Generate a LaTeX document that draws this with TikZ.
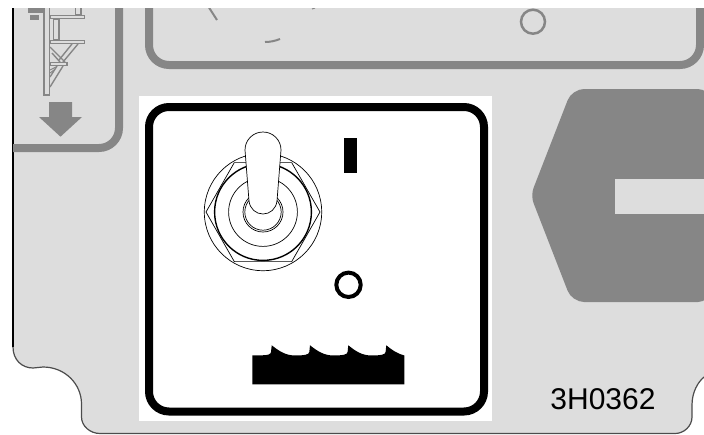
\documentclass[tikz,border=0pt]{standalone}
\usepackage{fontspec}
\setmainfont{Liberation Sans}
\definecolor{platefill}{HTML}{DDDDDD}
\definecolor{markgray}{HTML}{868686}
\begin{document}
\begin{tikzpicture}[x=1pt,y=-1pt,
  frameline/.style={draw=markgray, line width=8pt, rounded corners=20pt},
  decalline/.style={draw=black, line width=8pt, rounded corners=20pt},
  thinline/.style={draw=black, line width=0.7pt},
  ladderbar/.style={draw=markgray, fill=platefill, line width=1.6pt},
  dialmark/.style={draw=markgray, line width=2pt},
  partno/.style={font=\fontsize{30}{30}\selectfont, text=black, anchor=base, inner sep=0pt}]
\useasboundingbox (0,0) rectangle (704,434);
\begin{scope}
\clip (0,8) rectangle (704,434);
\fill[platefill] (13,0) -- (13,347) .. controls (13,360) and (22,368) .. (33,368)
  -- (43,367) .. controls (65,367) and (81.5,384) .. (81.5,404) -- (81.5,417)
  .. controls (81.5,426) and (90,433.5) .. (100,433.5) -- (675,433.5)
  .. controls (684,433.5) and (692,426) .. (692,417) -- (692,405)
  .. controls (692,392) and (698,382) .. (704,377) -- (704,0) -- cycle;
\draw[black, line width=1.4pt] (13,0) -- (13,347);
\draw[black!70, line width=1.2pt] (13,347) .. controls (13,360) and (22,368) .. (33,368)
  -- (43,367) .. controls (65,367) and (81.5,384) .. (81.5,404) -- (81.5,417)
  .. controls (81.5,426) and (90,433.5) .. (100,433.5) -- (675,433.5)
  .. controls (684,433.5) and (692,426) .. (692,417) -- (692,405)
  .. controls (692,392) and (698,382) .. (704,377);
\draw[frameline] (13,148) -- (119,148) -- (119,0);
\draw[frameline] (149,0) -- (149,65) -- (700,65) -- (700,0);
\draw[dialmark, line width=2.5pt] (533,21.7) circle[radius=12];
\draw[dialmark] (208,6) -- (217,20);
\draw[dialmark] (265,42) .. controls (270,42) and (275,41) .. (280,39);
\draw[dialmark, line width=1pt] (312,9) -- (315,8);
\fill[markgray] (28,8) rectangle (44,13);
\fill[markgray] (30,15) rectangle (39,20);
\draw[ladderbar] (75.5,0) rectangle (81,15);
\draw[ladderbar] (53.5,19) rectangle (59,40);
\draw[ladderbar, line width=1.4pt] (50,47) -- (65,62);
\draw[ladderbar, line width=1.4pt] (52,53) -- (60,62);
\draw[ladderbar, line width=1.4pt] (78,44) -- (63,62);
\draw[ladderbar, line width=1.4pt] (72,44) -- (59,60);
\draw[ladderbar, line width=1.4pt] (63,66) -- (50,87);
\draw[ladderbar, line width=1.4pt] (57,66) -- (50,77);
\draw[ladderbar, line width=1pt] (50,70) -- (56,67);
\draw[ladderbar, line width=1pt] (50,73) -- (54,70);
\draw[ladderbar] (50,15.5) rectangle (84.5,18.5);
\draw[ladderbar] (50,40.5) rectangle (84.5,43.5);
\draw[ladderbar] (50,62.5) rectangle (67,65.5);
\draw[ladderbar] (44,0) rectangle (49.5,95);
\fill[markgray] (49,102) -- (72,102) -- (72,117) -- (82,117) -- (60.5,136.7) -- (39,117) -- (49,117) -- cycle;
\end{scope}
\fill[markgray, rounded corners=12pt] (710,89) -- (572,89)
  [rounded corners=8pt] -- (530.6,195.5) [rounded corners=12pt] -- (572,302) -- (710,302) -- cycle;
\fill[platefill] (614.7,179) rectangle (704,213.7);
\fill[white] (139,96) rectangle (492,421);
\draw[decalline] (149,107) rectangle (484,411.5);
\coordinate (hub) at (263,212);
\draw[thinline] (hub) circle[radius=58.7];
\draw[thinline] (206,212) -- (234.3,162.6) -- (291.7,162.6) -- (320,212) -- (291.7,261.6) -- (234.3,261.6) -- cycle;
\draw[thinline, line width=1.4pt] (hub) circle[radius=48.4];
\draw[thinline] (hub) circle[radius=34.4];
\draw[thinline] (hub) circle[radius=20];
\draw[thinline] (hub) circle[radius=18.2];
\draw[thinline, fill=white] (245,150) .. controls (245,140) and (253,132) .. (263,132)
  .. controls (273,132) and (281,140) .. (281,150) -- (277,201)
  .. controls (276,209) and (270,214) .. (263,214)
  .. controls (256,214) and (250,209) .. (249,201) -- cycle;
\fill[black] (344.3,138.3) rectangle (356.7,172.7);
\draw[black, line width=4pt] (348.5,284.8) circle[radius=12.2];
\fill[black] (252.3,384.3) -- (252.3,355.3) -- (262,355.3)
  .. controls (267,355.3) and (271,354.5) .. (271,352) -- (271.7,345.3)
  \foreach \crest in {271.7,310,348}{
    .. controls (\crest+8,351.5) and (\crest+14,355.5) .. (\crest+24,355.5)
    .. controls (\crest+31,355.5) and (\crest+37.6,355) .. (\crest+37.6,352) -- (\crest+38.3,345.3)
  }
  .. controls (392,350) and (397,353.5) .. (404.3,355.5) -- (404.3,384.3) -- cycle;
\node[partno] (partnumber) at (603,409.7) {3H0362};
\end{tikzpicture}
\end{document}
